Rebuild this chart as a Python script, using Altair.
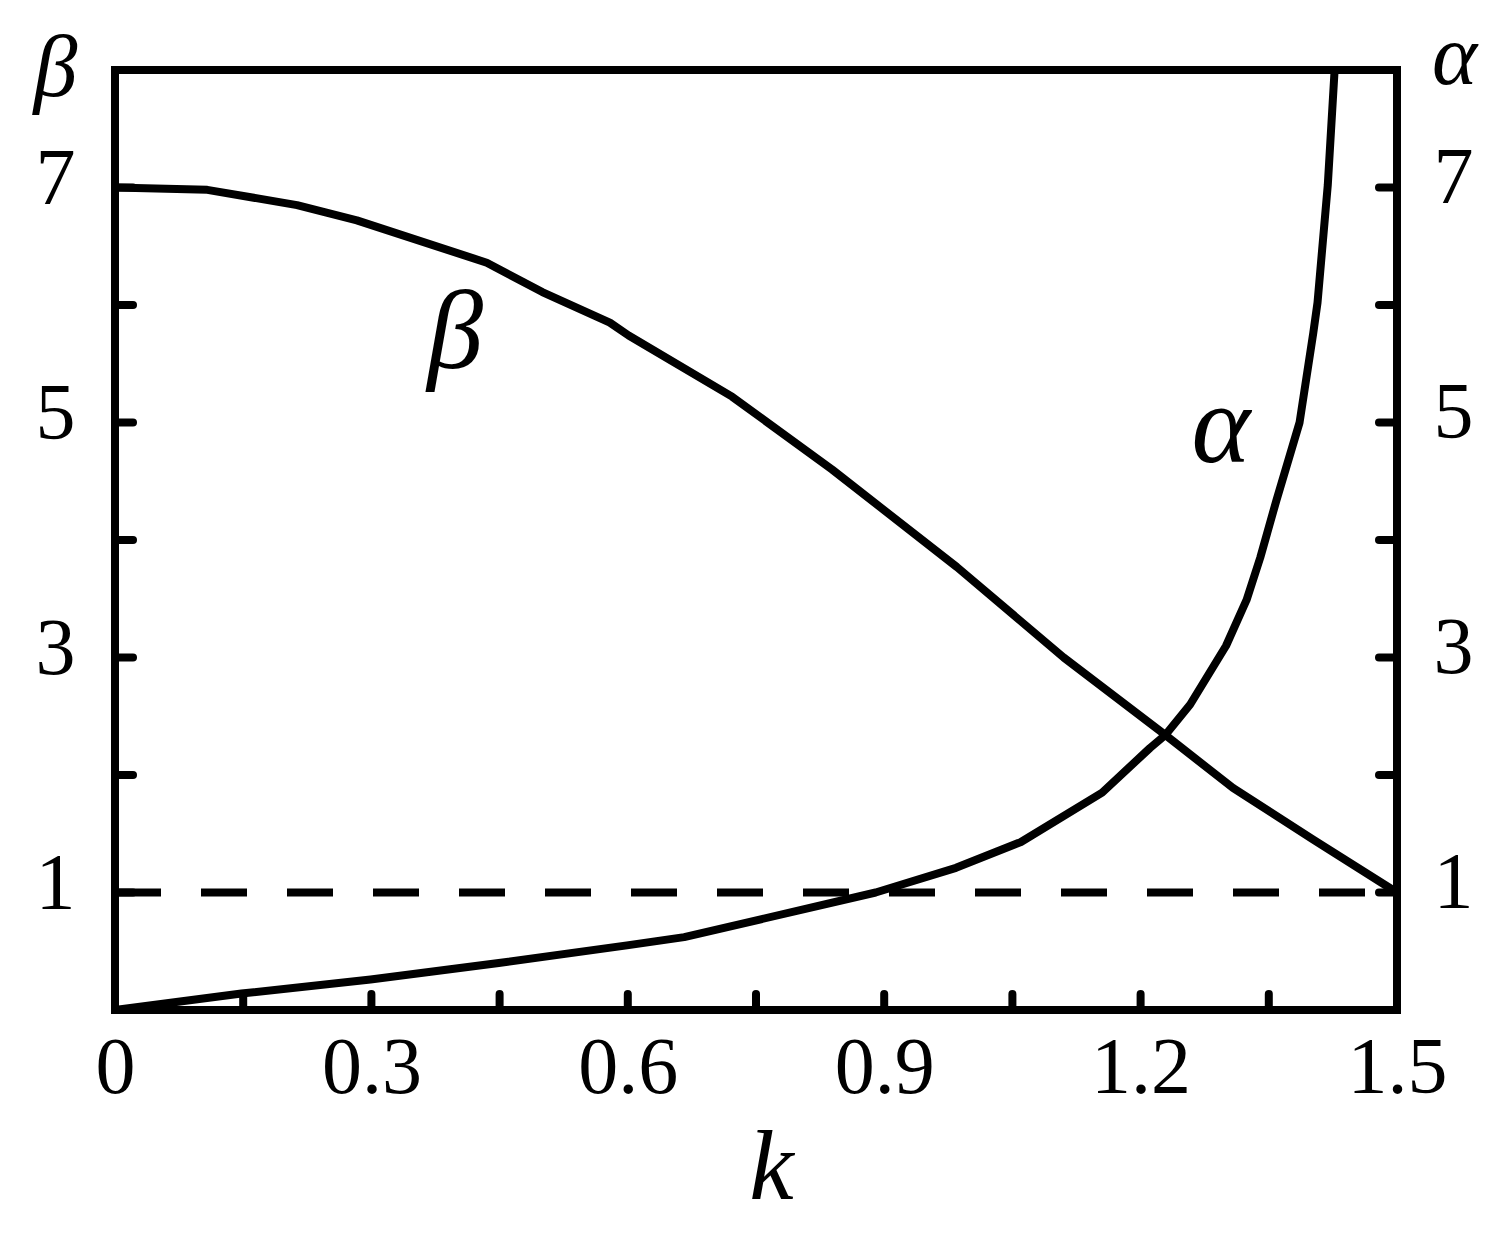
import altair as alt
import pandas as pd

# ---- data ----
k_beta = [0, 0.108, 0.213, 0.283, 0.435, 0.5, 0.579, 0.601, 0.722, 0.839, 0.985, 1.11, 1.229, 1.308, 1.402, 1.5]
beta_vals = [7.0, 6.98, 6.85, 6.72, 6.36, 6.11, 5.85, 5.74, 5.22, 4.60, 3.77, 3.00, 2.34, 1.89, 1.45, 1.0]

k_alpha = [0, 0.148, 0.299, 0.449, 0.599, 0.666, 0.890, 0.984, 1.060, 1.155, 1.211, 1.229, 1.258,
           1.300, 1.324, 1.340, 1.359, 1.386, 1.402, 1.407, 1.419, 1.427]
alpha_vals = [0.0, 0.14, 0.26, 0.40, 0.55, 0.62, 1.0, 1.21, 1.43, 1.85, 2.23, 2.34, 2.60,
              3.10, 3.49, 3.85, 4.34, 5.0, 5.76, 6.02, 7.02, 8.0]

x_label_values = [0, 0.3, 0.6, 0.9, 1.2, 1.5]
x_tick_values = [0.15, 0.3, 0.45, 0.6, 0.75, 0.9, 1.05, 1.2, 1.35]
y_label_values = [1, 3, 5, 7]
y_tick_values = [1, 2, 3, 4, 5, 6, 7]
ref_level = [1]
ann_labels = ["β", "α"]
ann_k = [0.398, 1.294]
ann_v = [5.46, 4.66]

# ---- layout / style ----
W, H = 1282, 940
FONT = "Liberation Serif"
LW = 8
LABEL_SIZE = 80
xs = alt.Scale(domain=[0, 1.5], nice=False, zero=False)


def ys():
    return alt.Scale(domain=[0, 8], nice=False, zero=False)


x_axis = alt.Axis(
    values=x_label_values, format="~g", title="k", grid=False, domain=False, ticks=False,
    tickSize=0, labelFlush=False, labelOverlap=False, labelBaseline="alphabetic",
    labelPadding=82, labelFont=FONT, labelFontSize=LABEL_SIZE, labelColor="black",
    titleFont=FONT, titleFontStyle="italic", titleFontWeight="normal", titleFontSize=100,
    titleColor="black", titleX=656, titleY=188, titleBaseline="alphabetic", titleAlign="center",
)


def X(field="k"):
    return alt.X(f"{field}:Q", scale=xs, axis=x_axis)


beta_df = pd.DataFrame({"k": k_beta, "v": beta_vals})
alpha_df = pd.DataFrame({"k": k_alpha, "v": alpha_vals})

left_axis = alt.Axis(
    orient="left", values=y_label_values, title="β", grid=False, domain=False, ticks=False,
    tickSize=0, labelBaseline="alphabetic", labelOffset=16, labelPadding=40, labelFont=FONT,
    labelFontSize=LABEL_SIZE, labelColor="black", labelOverlap=False,
    titleFont=FONT, titleFontStyle="italic", titleFontWeight="normal", titleFontSize=88,
    titleColor="black", titleAngle=0, titleX=-60, titleY=25, titleAlign="center",
    titleBaseline="alphabetic",
)
right_axis = alt.Axis(
    orient="right", values=y_label_values, title="α", grid=False, domain=False, ticks=False,
    tickSize=0, labelBaseline="alphabetic", labelOffset=15, labelPadding=36, labelFont=FONT,
    labelFontSize=LABEL_SIZE, labelColor="black", labelOverlap=False,
    titleFont=FONT, titleFontStyle="italic", titleFontWeight="normal", titleFontSize=86,
    titleColor="black", titleAngle=0, titleX=57, titleY=13, titleAlign="center",
    titleBaseline="alphabetic",
)

beta_line = alt.Chart(beta_df).mark_line(color="black", strokeWidth=LW, strokeJoin="round").encode(
    x=X(), y=alt.Y("v:Q", scale=ys(), axis=left_axis)
)
alpha_line = alt.Chart(alpha_df).mark_line(color="black", strokeWidth=LW, strokeJoin="round").encode(
    x=X(), y=alt.Y("v:Q", scale=ys(), axis=right_axis)
)

dash = alt.Chart(pd.DataFrame({"v": ref_level})).mark_rule(
    color="black", strokeWidth=LW, strokeDash=[46, 40], strokeDashOffset=54, strokeCap="butt"
).encode(y=alt.Y("v:Q", scale=ys(), axis=None))

yt = pd.DataFrame({"v": y_tick_values})
left_ticks = alt.Chart(yt).mark_rule(color="black", strokeWidth=LW, strokeCap="round").encode(
    y=alt.Y("v:Q", scale=ys(), axis=None), x=alt.value(0), x2=alt.value(18)
)
right_ticks = alt.Chart(yt).mark_rule(color="black", strokeWidth=LW, strokeCap="round").encode(
    y=alt.Y("v:Q", scale=ys(), axis=None), x=alt.value(W - 18), x2=alt.value(W)
)
bottom_ticks = alt.Chart(pd.DataFrame({"k": x_tick_values})).mark_rule(
    color="black", strokeWidth=LW, strokeCap="round"
).encode(x=X(), y=alt.value(H - 16), y2=alt.value(H))

ann = alt.Chart(pd.DataFrame({"k": ann_k, "v": ann_v, "t": ann_labels})).mark_text(
    font=FONT, fontStyle="italic", fontSize=112, baseline="alphabetic", align="center", color="black"
).encode(x=X(), y=alt.Y("v:Q", scale=ys(), axis=None), text="t:N")

chart = alt.layer(
    beta_line, alpha_line, dash, left_ticks, right_ticks, bottom_ticks, ann
).resolve_scale(y="independent").resolve_axis(y="independent").properties(
    width=W, height=H,
    autosize=alt.AutoSizeParams(type="none"),
    padding={"left": 107, "top": 62, "right": 100, "bottom": 215},
    background="white",
).configure_view(stroke="black", strokeWidth=LW)

chart.save("out.html", embed_options={"renderer": "svg", "actions": False})
